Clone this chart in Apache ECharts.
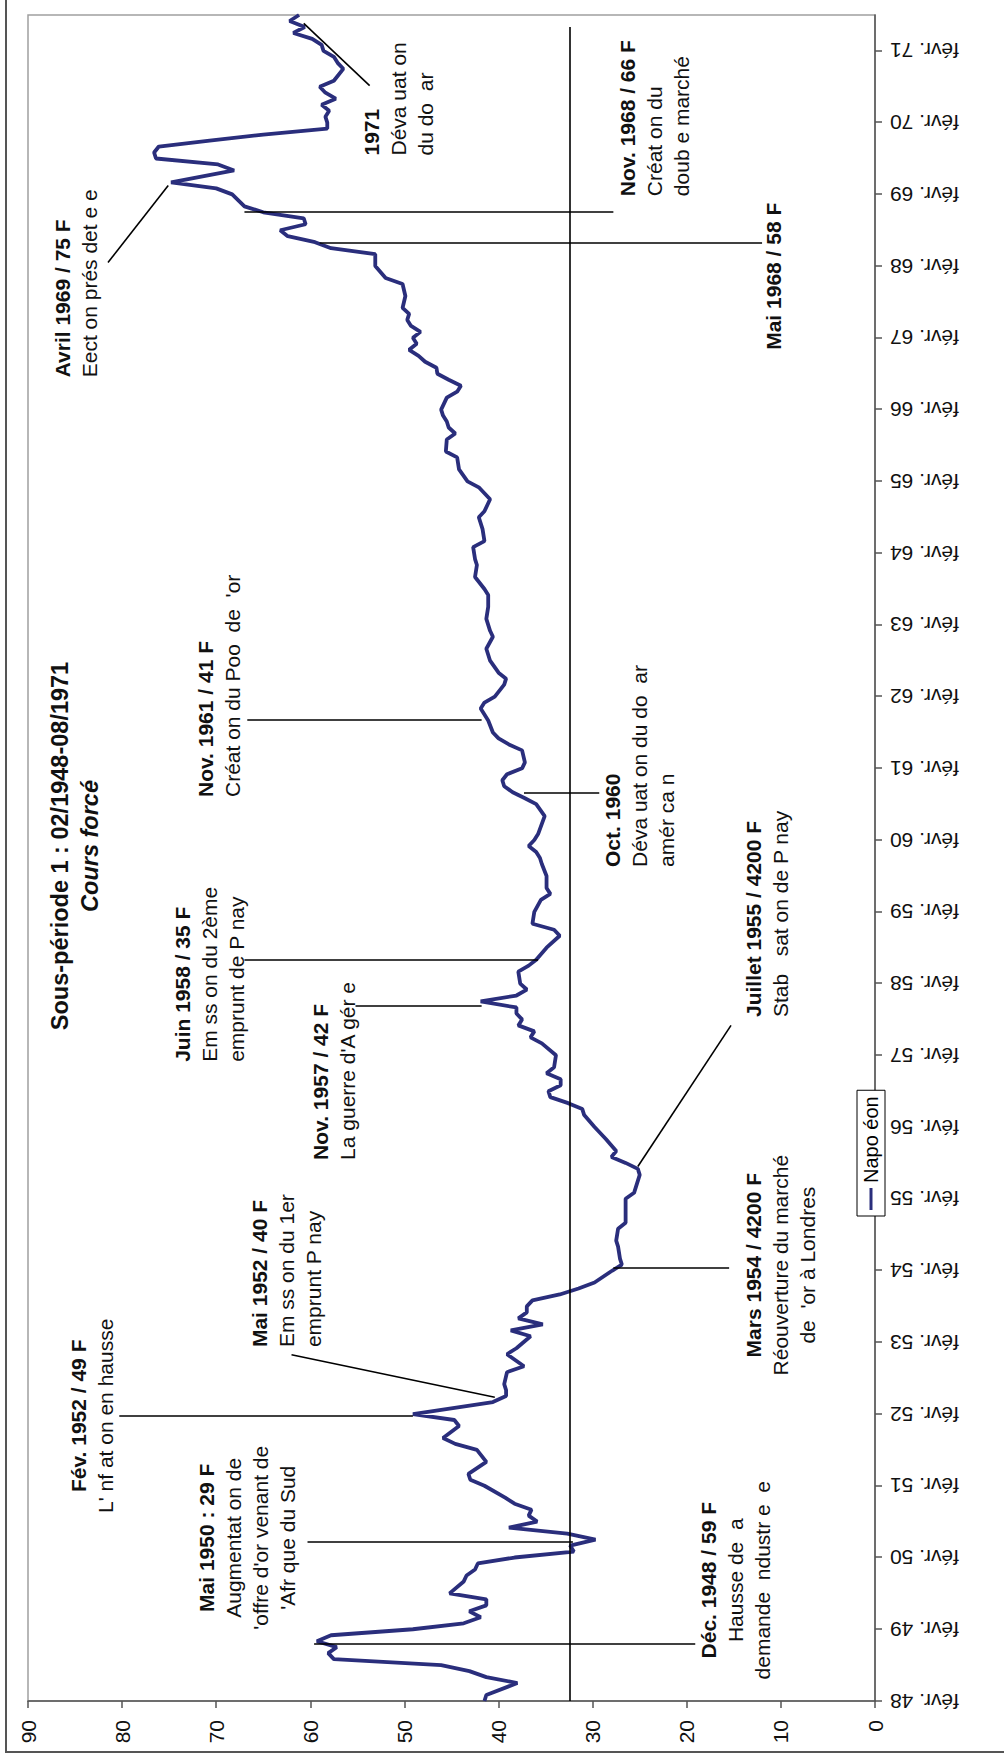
<!DOCTYPE html>
<html><head><meta charset="utf-8">
<script src="https://cdn.jsdelivr.net/npm/echarts@6/dist/echarts.min.js"></script>
<style>
html,body{margin:0;padding:0;width:1004px;height:1762px;overflow:hidden;background:#fff;}
#chart{position:absolute;left:0;top:0;width:1762px;height:1004px;transform-origin:0 0;transform:translate(0px,1762px) rotate(-90deg);}
</style></head><body><div id="chart"></div>
<script>
// ---- data ----
const obsMonths = [
'1948-02','1948-03','1948-05','1948-06','1948-07','1948-08','1948-09','1948-10','1948-11','1948-12',
'1949-01','1949-02','1949-03','1949-04','1949-05','1949-06','1949-07','1949-08','1949-10','1949-11','1949-12',
'1950-01','1950-02','1950-03','1950-04','1950-05','1950-06','1950-07','1950-08','1950-09','1950-10','1950-11','1950-12',
'1951-02','1951-03','1951-04','1951-06','1951-08','1951-09','1951-10','1951-12',
'1952-01','1952-02','1952-04','1952-05','1952-06','1952-07','1952-09','1952-10','1952-12',
'1953-01','1953-03','1953-04','1953-05','1953-06','1953-07','1953-08','1953-09','1953-10','1953-11','1953-12',
'1954-02','1954-03','1954-04','1954-06','1954-07','1954-09','1954-10',
'1955-02','1955-03','1955-06','1955-07','1955-08','1955-09','1955-10','1955-12',
'1956-02','1956-04','1956-05','1956-06','1956-07','1956-08','1956-09','1956-10','1956-11','1956-12',
'1957-02','1957-04','1957-05','1957-06','1957-07','1957-08','1957-09','1957-10','1957-11','1957-12',
'1958-01','1958-02','1958-04','1958-05','1958-06','1958-08','1958-10','1958-11','1958-12',
'1959-02','1959-04','1959-05','1959-06','1959-08','1959-10','1959-11','1959-12',
'1960-01','1960-02','1960-03','1960-06','1960-08','1960-09','1960-10','1960-11','1960-12',
'1961-01','1961-02','1961-03','1961-05','1961-06','1961-07','1961-08','1961-10','1961-12',
'1962-01','1962-02','1962-04','1962-05','1962-06','1962-08','1962-09','1962-10','1962-12',
'1963-01','1963-03','1963-05','1963-07','1963-08','1963-10','1963-12',
'1964-01','1964-03','1964-04','1964-06','1964-08','1964-09','1964-11',
'1965-01','1965-02','1965-04','1965-06','1965-07','1965-09','1965-10','1965-11','1965-12',
'1966-01','1966-02','1966-04','1966-05','1966-06','1966-07','1966-08','1966-09','1966-10','1966-11','1966-12',
'1967-01','1967-02','1967-03','1967-04','1967-05','1967-06','1967-07','1967-09','1967-11','1967-12',
'1968-02','1968-04','1968-05','1968-06','1968-07','1968-08','1968-09','1968-10','1968-11','1968-12',
'1969-02','1969-03','1969-04','1969-06','1969-07','1969-08','1969-09','1969-10','1969-11','1969-12',
'1970-01','1970-02','1970-03','1970-04','1970-05','1970-06','1970-07','1970-08','1970-09','1970-11','1970-12',
'1971-01','1971-02','1971-03','1971-04','1971-05','1971-06','1971-07','1971-08'
];
const prices = [
41.5,41.3,38.0,41.3,43.1,46.1,57.5,58.1,57.2,59.3,
57.8,49.1,43.7,41.9,43.1,41.3,41.3,45.2,43.7,43.4,42.5,
42.2,38.3,32.0,32.4,29.7,32.7,38.9,35.9,36.8,36.5,38.3,39.3,
41.5,43.0,43.2,41.3,42.3,44.6,45.9,44.2,
44.7,49.1,40.6,39.2,39.2,39.4,39.1,37.3,39.1,
38.1,36.6,38.7,35.3,37.9,37.0,37.0,36.4,33.5,31.5,29.8,
27.9,26.9,27.1,27.3,27.5,27.3,26.5,
26.5,25.6,25.0,25.2,26.5,28.0,27.5,28.6,
29.8,30.9,31.1,32.6,34.5,34.7,33.4,33.4,34.9,34.1,
33.9,35.4,36.6,36.2,37.9,37.5,38.1,38.1,41.9,38.1,
37.0,37.7,37.9,36.8,36.0,34.9,33.5,34.1,36.4,
36.2,35.5,34.5,34.9,34.9,35.4,35.6,36.0,
36.8,36.2,35.8,35.1,36.0,37.2,38.5,39.4,39.6,
39.1,37.5,37.2,37.5,38.9,40.0,40.6,41.1,41.9,
41.5,40.4,39.4,39.2,40.0,40.9,41.1,41.3,40.6,
40.9,41.3,41.1,41.1,41.5,42.5,42.3,
42.5,42.7,41.5,41.7,42.1,41.5,40.9,
42.1,43.3,44.2,44.4,45.6,45.5,44.6,45.3,45.5,
45.9,46.1,45.5,44.4,44.0,45.3,46.5,46.6,47.8,48.5,49.5,
48.7,49.1,48.3,49.3,49.7,49.5,50.2,49.9,50.2,52.0,
53.1,53.1,57.8,59.5,62.4,63.2,60.5,60.7,65.0,67.0,
68.3,70.0,74.8,68.1,69.8,76.4,76.6,76.1,70.7,65.0,
58.2,58.2,58.4,58.0,58.8,57.3,58.4,59.0,57.5,56.5,57.1,
57.5,58.6,58.8,59.8,61.8,60.6,62.2,61.2
];
const tickLabels = ['févr. 48','févr. 49','févr. 50','févr. 51','févr. 52','févr. 53','févr. 54','févr. 55',
'févr. 56','févr. 57','févr. 58','févr. 59','févr. 60','févr. 61','févr. 62','févr. 63','févr. 64','févr. 65',
'févr. 66','févr. 67','févr. 68','févr. 69','févr. 70','févr. 71'];
const valueTicks = [0,10,20,30,40,50,60,70,80,90];
const meanLevel = 32.4;
const meanSpan = ['1948-02', '1971-06'];
const seriesName = 'Napo éon';
const titleText = 'Sous-période 1 : 02/1948-08/1971';
const subtitleText = 'Cours forcé';

// annotation texts
const annotationTexts = [
 ['Déc. 1948 / 59 F','Hausse de  a','demande  ndustr e  e'],
 ['Mai 1950 : 29 F','Augmentat on de',"'offre d'or venant de","'Afr que du Sud"],
 ['Fév. 1952 / 49 F',"L' nf at on en hausse"],
 ['Mai 1952 / 40 F','Em ss on du 1er','emprunt P nay'],
 ['Mars 1954 / 4200 F','Réouverture du marché',"de  'or à Londres"],
 ['Juillet 1955 / 4200 F','Stab   sat on de P nay'],
 ['Nov. 1957 / 42 F',"La guerre d'A gér e"],
 ['Juin 1958 / 35 F','Em ss on du 2ème','emprunt de P nay'],
 ['Oct. 1960','Déva uat on du do  ar','amér ca n'],
 ['Nov. 1961 / 41 F',"Créat on du Poo  de  'or"],
 ['Mai 1968 / 58 F'],
 ['Nov. 1968 / 66 F','Créat on du','doub e marché'],
 ['Avril 1969 / 75 F','Eect on prés det e e'],
 ['1971','Déva uat on','du do  ar']
];

// ---- layout (positions in chart coordinates: [month index, value]) ----
const annotationLayout = [
 {at:[20.2,18.8], align:'center', leader:[[9.5,59.6],[9.5,19.1]]},
 {at:[27.3,72.1], align:'center', leader:[[26.5,60.3],[26.5,32.1]]},
 {at:[47.7,85.7], align:'center', leader:[[47.7,80.3],[47.7,49.1]]},
 {at:[59.2,66.5], align:'left', leader:[[57.9,62.0],[50.8,40.4]]},
 {at:[72.9,14.0], align:'center', leader:[[72.4,27.8],[72.4,15.5]]},
 {at:[114.4,14.0], align:'left', leader:[[89.4,25.2],[113.0,15.3]]},
 {at:[90.5,60.0], align:'left', leader:[[116.2,55.2],[116.2,41.8]]},
 {at:[106.9,74.7], align:'left', leader:[[123.9,67.0],[123.9,35.8]]},
 {at:[139.5,29.0], align:'left', leader:[[151.8,37.3],[151.8,29.3]]},
 {at:[151.2,72.3], align:'left', leader:[[164.0,66.7],[164.0,41.8]]},
 {at:[238.3,11.9], align:'center', leader:[[243.8,59.0],[243.8,12.0]]},
 {at:[251.7,27.4], align:'left', leader:[[249.0,67.0],[249.0,27.8]]},
 {at:[221.4,87.5], align:'left', leader:[[253.5,75.1],[240.6,81.5]]},
 {at:[258.5,54.6], align:'left', leader:[[280.6,60.7],[270.2,53.7]]}
];

const FONT = '"Liberation Sans", Arial, sans-serif';
const ANN_SIZE = 21;
const LINE_H = 27;

function monthIndex(s) {
  const p = s.split('-').map(Number);
  return (p[0] - 1948) * 12 + (p[1] - 2);
}
const tickVals = tickLabels.map((_, i) => i * 12);
const seriesData = obsMonths.map((d, i) => [monthIndex(d), prices[i]]);

const chart = echarts.init(document.getElementById('chart'), null, {renderer: 'svg', width: 1762, height: 1004});

chart.setOption({
  animation: false,
  backgroundColor: '#fff',
  title: {
    text: titleText, subtext: subtitleText,
    left: 911, top: 43, textAlign: 'center', itemGap: 6,
    textStyle: {fontFamily: FONT, fontSize: 23.5, fontWeight: 'bold', color: '#111'},
    subtextStyle: {fontFamily: FONT, fontSize: 23.5, fontWeight: 'bold', fontStyle: 'italic', color: '#111'}
  },
  legend: {
    data: [seriesName], left: 546, top: 857, orient: 'horizontal', icon: 'rect',
    backgroundColor: '#fff', borderColor: '#000', borderWidth: 1, padding: [4, 6],
    itemWidth: 22, itemHeight: 3, itemGap: 4, selectedMode: false,
    textStyle: {fontFamily: FONT, fontSize: 20, color: '#000'}
  },
  grid: {left: 61, top: 28, right: 15, bottom: 129, show: true, borderColor: '#a0a0a0', borderWidth: 1.5, backgroundColor: 'transparent'},
  xAxis: {
    type: 'value', min: 0, max: monthIndex('1971-08'), interval: 12,
    axisLine: {show: true, onZero: false, lineStyle: {color: '#555', width: 1.5}},
    axisTick: {show: true, length: 7, lineStyle: {color: '#555', width: 1.5}, customValues: tickVals},
    axisLabel: {customValues: tickVals, rotate: 90, margin: 15, fontSize: 21, fontFamily: FONT, color: '#111',
      formatter: v => tickLabels[Math.round(v / 12)] || ''},
    splitLine: {show: false}
  },
  yAxis: {
    type: 'value', min: 0, max: 90, interval: 10,
    axisLine: {show: true, lineStyle: {color: '#555', width: 1.5}},
    axisTick: {show: true, length: 7, lineStyle: {color: '#555', width: 1.5}, customValues: valueTicks},
    axisLabel: {customValues: valueTicks, margin: 19, fontSize: 21, fontFamily: FONT, color: '#111'},
    splitLine: {show: false}
  },
  series: [{
    type: 'line', name: seriesName, data: seriesData, symbol: 'none', showSymbol: false,
    lineStyle: {color: '#2a2e7c', width: 3.8}, itemStyle: {color: '#2a2e7c'},
    z: 3,
    markLine: {
      silent: true, symbol: 'none', animation: false, label: {show: false},
      emphasis: {disabled: true},
      lineStyle: {color: '#000', width: 1.6, type: 'solid'},
      data: [[{coord: [monthIndex(meanSpan[0]), meanLevel]}, {coord: [monthIndex(meanSpan[1]), meanLevel]}]]
        .concat(annotationLayout.map(a => [{coord: a.leader[0]}, {coord: a.leader[1]}]))
    }
  }]
});

const graphics = [{
  type: 'rect', shape: {x: 10, y: 6, width: 1800, height: 1100}, silent: true, z: -1,
  style: {fill: 'none', stroke: '#555', lineWidth: 2}
}];
annotationLayout.forEach((a, k) => {
  const p = chart.convertToPixel({gridIndex: 0}, a.at);
  annotationTexts[k].forEach((t, i) => {
    graphics.push({
      type: 'text', x: p[0], y: p[1] + i * LINE_H, silent: true, z: 10,
      style: {text: t, font: (i === 0 ? 'bold ' : '') + ANN_SIZE + 'px ' + FONT, fill: '#111',
        align: a.align, verticalAlign: 'top', textAlign: a.align, textVerticalAlign: 'top'}
    });
  });
});
chart.setOption({graphic: graphics});
</script></body></html>
